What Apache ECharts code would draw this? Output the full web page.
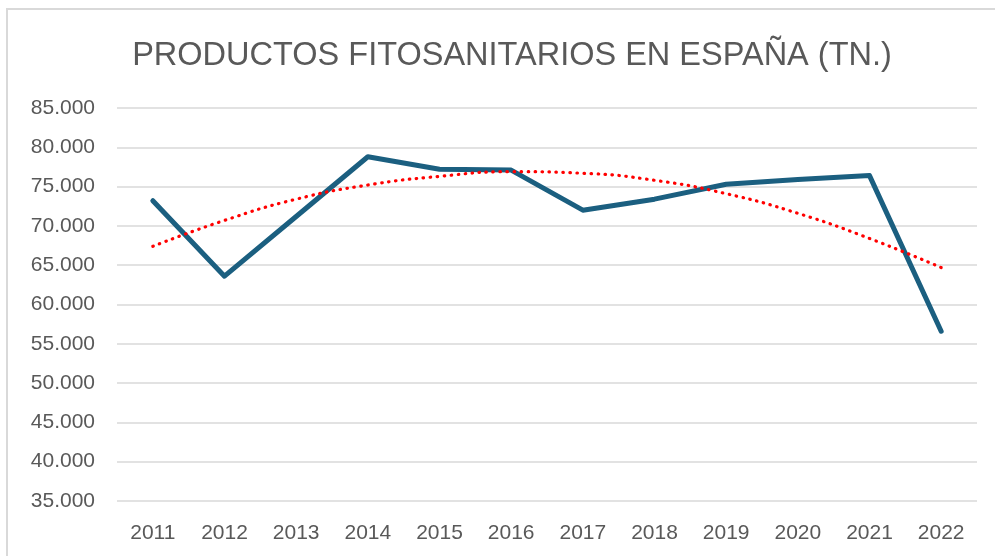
<!DOCTYPE html>
<html>
<head>
<meta charset="utf-8">
<script src="https://cdn.jsdelivr.net/npm/echarts@6/dist/echarts.min.js"></script>
<style>
  html, body { margin: 0; padding: 0; background: #fff; overflow: hidden; }
  #frame {
    position: absolute; left: 6px; top: 8px; width: 1010px; height: 570px;
    border: 2px solid #d9d9d9; box-sizing: border-box;
  }
  #main { position: absolute; left: 0; top: 0; width: 995px; height: 556px; }
</style>
</head>
<body>
<div id="frame"></div>
<div id="main"></div>
<script>
  // años
  var years = ['2011', '2012', '2013', '2014', '2015', '2016', '2017', '2018', '2019', '2020', '2021', '2022'];
  // toneladas de productos fitosanitarios
  var toneladas = [73200, 63600, 71200, 78800, 77200, 77100, 72000, 73400, 75300, 75900, 76400, 56600];
  // línea de tendencia (polinómica)
  var tendencia = [67400, 70700, 73400, 75200, 76300, 76900, 76700, 75800, 74100, 71600, 68400, 64700];

  var myChart = echarts.init(document.getElementById('main'));
  myChart.setOption({
    animation: false,
    backgroundColor: 'transparent',
    title: {
      text: 'PRODUCTOS FITOSANITARIOS EN ESPAÑA (TN.)',
      left: 507,
      top: 35,
      textAlign: 'center',
      textStyle: {
        color: '#595959',
        fontFamily: 'Liberation Sans',
        fontSize: 32.5,
        fontWeight: 'normal'
      }
    },
    grid: {
      left: 117,
      right: 18,
      top: 108,
      bottom: 55,
      containLabel: false
    },
    xAxis: {
      type: 'category',
      boundaryGap: true,
      data: years,
      axisLine: { show: false },
      axisTick: { show: false },
      axisLabel: {
        color: '#595959',
        fontFamily: 'Liberation Sans',
        fontSize: 21,
        margin: 22
      }
    },
    yAxis: {
      type: 'value',
      min: 35000,
      max: 85000,
      interval: 5000,
      axisLine: { show: false },
      axisTick: { show: false },
      splitLine: {
        lineStyle: { color: '#d9d9d9', width: 1.5 }
      },
      axisLabel: {
        color: '#595959',
        fontFamily: 'Liberation Sans',
        fontSize: 21,
        margin: 22,
        formatter: function (v) {
          return (v / 1000).toFixed(0) + '.000';
        }
      }
    },
    series: [
      {
        name: 'Toneladas',
        type: 'line',
        data: toneladas,
        symbol: 'none',
        lineStyle: { color: '#1b5f80', width: 5, cap: 'round', join: 'round' },
        z: 3
      },
      {
        name: 'Tendencia',
        type: 'line',
        data: tendencia,
        symbol: 'none',
        smooth: true,
        lineStyle: { color: '#ff0000', width: 3.2, type: [0.5, 6.5], cap: 'round' },
        z: 4
      }
    ]
  });
</script>
</body>
</html>
